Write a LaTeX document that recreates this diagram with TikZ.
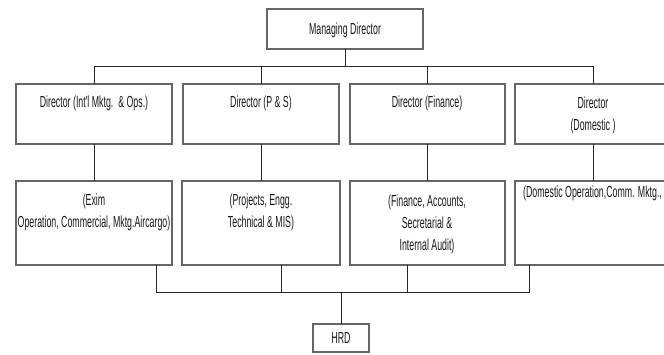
\documentclass[tikz,border=0pt]{standalone}
\usepackage{fontspec}
\newfontfamily\narrowfont[FakeStretch=0.55]{Liberation Sans}
\begin{document}
\begin{tikzpicture}[x=1pt,y=-1pt,
  box/.style={draw=black!60, line width=1.8pt, fill=white, inner sep=0pt, outer sep=0pt},
  txt/.style={font=\narrowfont\fontsize{16}{22}\selectfont, align=center, inner sep=0pt, text=black!90},
  conn/.style={draw=black!85, line width=0.9pt}]
\useasboundingbox (0,0) rectangle (664,355);
\clip (0,0) rectangle (664,355);
\fill[white] (0,0) rectangle (664,355);
\coordinate (bustop) at (0,66);
\coordinate (busbot) at (0,292);
% boxes
\node[box, minimum width=156, minimum height=40] (md) at (345,29) {};
\node[box, minimum width=156, minimum height=60] (l2a) at (94,114) {};
\node[box, minimum width=156, minimum height=60] (l2b) at (261,114) {};
\node[box, minimum width=155, minimum height=60] (l2c) at (427.5,114) {};
\node[box, minimum width=156, minimum height=60] (l2d) at (593,114) {};
\node[box, minimum width=156, minimum height=84] (l3a) at (94,223) {};
\node[box, minimum width=158, minimum height=84] (l3b) at (261,223) {};
\node[box, minimum width=155, minimum height=84] (l3c) at (427.5,223) {};
\node[box, minimum width=156, minimum height=84] (l3d) at (593,223) {};
\node[box, minimum width=56, minimum height=28] (hrd) at (341,338) {};
% texts (base anchor = baseline of last line)
\node[txt, anchor=base] (tmd) at (345,35) {Managing Director};
\node[txt, anchor=base] (t2a) at (94,108) {Director (Int'l Mktg.\ \ \& Ops.)};
\node[txt, anchor=base] (t2b) at (261,108) {Director (P \& S)};
\node[txt, anchor=base] (t2c) at (427,108) {Director (Finance)};
\node[txt, anchor=base] (t2d) at (593,131) {Director\\(Domestic )};
\node[txt, anchor=base] (t3a) at (94,228) {(Exim\\Operation, Commercial, Mktg.Aircargo)};
\node[txt, anchor=base] (t3b) at (261,228) {(Projects, Engg.\\Technical \& MIS)};
\node[txt, anchor=base] (t3c) at (427,251) {(Finance, Accounts,\\Secretarial \&\\Internal Audit)};
\node[txt, anchor=base west, align=left] (t3d) at (523,198) {(Domestic Operation,Comm. Mktg.,};
\node[txt, anchor=base] (thrd) at (341,343) {HRD};
% connectors top
\draw[conn] (md.south) -- (md.south |- bustop);
\draw[conn] (l2a.north) |- (l2d.north |- bustop) -- (l2d.north);
\draw[conn] (l2b.north) -- (l2b.north |- bustop);
\draw[conn] (l2c.north) -- (l2c.north |- bustop);
% level 2 to level 3
\draw[conn] (l2a.south) -- (l3a.north);
\draw[conn] (l2b.south) -- (l3b.north);
\draw[conn] (l2c.south) -- (l3c.north);
\draw[conn] (l2d.south) -- (l3d.north);
% bottom bus
\coordinate (da) at ([xshift=62pt]l3a.south);
\coordinate (db) at ([xshift=20pt]l3b.south);
\coordinate (dc) at ([xshift=-20.5pt]l3c.south);
\coordinate (dd) at ([xshift=-64pt]l3d.south);
\draw[conn] (da) |- (dd |- busbot) -- (dd);
\draw[conn] (db) -- (db |- busbot);
\draw[conn] (dc) -- (dc |- busbot);
\draw[conn] (hrd.north) -- (hrd.north |- busbot);
\end{tikzpicture}
\end{document}
